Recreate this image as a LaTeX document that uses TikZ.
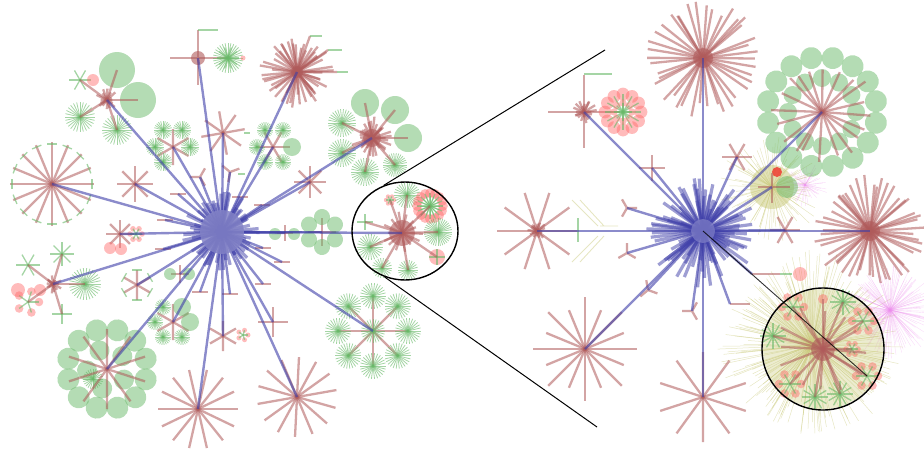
\documentclass[tikz,border=0pt]{standalone}
\usetikzlibrary{shapes.geometric}
\definecolor{Rose}{RGB}{175,90,90}
\definecolor{Leaf}{RGB}{105,185,105}
\definecolor{Blush}{RGB}{255,105,105}
\definecolor{Indigo}{RGB}{62,62,168}
\definecolor{Olive}{RGB}{200,200,120}
\definecolor{Orchid}{RGB}{235,140,235}
\definecolor{Ember}{RGB}{240,50,40}
\tikzset{
  pics/star/.style 2 args={code={\foreach \k in {1,...,#1}{\draw[spoke] (0,0)--({\k/#1*360}:#2);}}},
  pics/shag/.style n args={3}{code={\foreach \k in {1,...,#1}{\draw[spoke] (0,0)--({\k/#1*360+5*rnd}:{#2+(#3-#2)*rnd});}}},
  pics/tuft/.style 2 args={code={\foreach \k in {1,...,#1}{\draw[leafline] (0,0)--({\k/#1*360}:#2);}}},
  pics/sprig/.style 2 args={code={\foreach \k in {1,...,#1}{\draw[twig] (0,0)--({\k/#1*360}:#2);}}},
  pics/pads/.style n args={3}{code={\foreach \k in {1,...,#1}{\fill[pad] ({\k/#1*360}:#2) circle[radius=#3];}}},
  pics/posy/.style 2 args={code={\foreach \k in {1,...,#1}{\fill[blot] ({\k/#1*360}:#2) circle[radius={0.3*#2+1}];\draw[twig] (0,0)--({\k/#1*360}:#2);}}},
  pics/fork/.style={code={\draw[spoke] (0,0)--(0:10) (0,0)--(120:10) (0,0)--(240:10);}},
  pics/haze/.style n args={4}{code={\foreach \k in {1,...,#1}{\draw[#4] (0,0)--({\k/#1*360+3*rnd}:{#2+(#3-#2)*rnd});}}},
}
\begin{document}
\begin{tikzpicture}[x=1pt,y=-1pt,
    spoke/.style={draw=Rose,line width=2.3pt,opacity=.55},
    leafline/.style={draw=Leaf,line width=.8pt,opacity=.6},
    twig/.style={draw=Leaf,line width=1.3pt,opacity=.6},
    pad/.style={fill=Leaf,opacity=.5},
    blot/.style={fill=Blush,opacity=.45},
    core/.style={fill=Rose,opacity=.6},
    edge/.style={draw=Indigo,line width=2.4pt,opacity=.6},
    ray/.style={draw=Indigo,line width=3.2pt,opacity=.5},
    straw/.style={draw=Olive,line width=.5pt,opacity=.45},
    floss/.style={draw=Orchid,line width=.4pt,opacity=.3},
    lens/.style={draw=black,line width=1.4pt,inner sep=0pt},
    probe/.style={draw=black,line width=1pt}
  ]
  \pgfmathsetseed{7}
  \useasboundingbox (0,0) rectangle (924,448);

  % ---- left tree
  \coordinate (hl) at (222,232);
  \coordinate (la) at (107,100);
  \coordinate (lb) at (198,58);
  \coordinate (lc) at (297,72);
  \coordinate (ld) at (223,133);
  \coordinate (le) at (173,147);
  \coordinate (lf) at (273,147);
  \coordinate (lg) at (52,184);
  \coordinate (li) at (135,184);
  \coordinate (lj) at (372,138);
  \coordinate (lk) at (310,182);
  \coordinate (ll) at (53,284);
  \coordinate (lm) at (137,285);
  \coordinate (ln) at (107,369);
  \coordinate (lo) at (173,322);
  \coordinate (lp) at (198,409);
  \coordinate (lq) at (297,397);
  \coordinate (lr) at (223,336);
  \coordinate (ls) at (273,322);
  \coordinate (lt) at (180,274);
  \coordinate (lu) at (373,331);
  \coordinate (lv) at (402,233);
  \coordinate (lw) at (322,232);
  \coordinate (lx) at (120,234);
  \coordinate (ly) at (285,233);
  \coordinate (lz) at (200,177);
  \coordinate (lz2) at (230,172);
  \foreach \x/\y [count=\i] in {178/194,240/197,262/205,165/220,163/249,
      263/248,282/262,200/292,230/294,263/284}
    \coordinate (ld\i) at (\x,\y);

  % la
  \coordinate (la1) at (117,70);
  \coordinate (la2) at (138,100);
  \coordinate (la3) at (80,117);
  \coordinate (la4) at (117,130);
  \coordinate (la5) at (80,80);
  \fill[pad] (la1) circle[radius=18];
  \fill[pad] (la2) circle[radius=18];
  \pic at (la3) {tuft={28}{15}};
  \pic at (la4) {tuft={28}{15}};
  \pic at (la5) {sprig={6}{11}};
  \fill[blot] (93,80) circle[radius=6];
  \foreach \t in {la1,la2,la3,la4,la5} \draw[spoke] (la) -- (\t);
  \pic at (la) {shag={16}{5}{12}};

  % lb
  \draw[spoke] (170,58) -- (228,58) (198,30) -- (198,85);
  \fill[core] (lb) circle[radius=7];
  \draw[twig] (198,30) -- (218,30);
  \pic at (228,58) {tuft={32}{15}};
  \pic at (228,58) {sprig={10}{11}};
  \fill[blot] (243,58) circle[radius=2.5];

  % lc
  \pic at (lc) {shag={50}{22}{38}};
  \fill[core] (lc) circle[radius=6];
  \draw[spoke] (lc) -- (310,36) (lc) -- (328,50) (lc) -- (337,72);
  \draw[twig] (310,36) -- (322,36) (328,50) -- (342,50) (337,72) -- (348,72);

  % ld, le, lf
  \pic[rotate=10] at (ld) {star={8}{22}};
  \draw[twig] (244,133) -- (250,133);
  \pic[rotate=30] at (le) {star={6}{18}};
  \foreach \x/\y in {163/130,182/130,155/147,190/147,163/162}
    \pic at (\x,\y) {tuft={24}{9}};
  \pic at (lf) {star={6}{17}};
  \foreach \x/\y in {265/130,283/130,257/147,265/162,283/162}
    \pic at (\x,\y) {tuft={22}{8}};
  \fill[pad] (292,147) circle[radius=9];

  % lg
  \pic at (lg) {star={16}{42}};
  \foreach \a in {22.5,45,...,360}
    \draw[twig] ([shift={(\a:40)}]lg) -- ++({\a+90}:5) ([shift={(\a:40)}]lg) -- ++({\a-90}:5);

  % li, lk, lz
  \pic at (li) {star={8}{18}};
  \pic at (lk) {star={8}{16}};
  \pic[rotate=-60] at (lz) {fork};
  \pic[rotate=-100] at (lz2) {fork};
  \draw[twig] (238,174) -- (245,174);

  % lj
  \coordinate (lj1) at (365,103);
  \coordinate (lj2) at (395,110);
  \coordinate (lj3) at (408,138);
  \coordinate (lj4) at (342,123);
  \coordinate (lj5) at (342,153);
  \coordinate (lj6) at (365,172);
  \coordinate (lj7) at (395,165);
  \fill[pad] (lj1) circle[radius=14];
  \fill[pad] (lj2) circle[radius=14];
  \fill[pad] (lj3) circle[radius=14];
  \foreach \t in {lj4,lj5,lj6} \pic at (\t) {tuft={30}{14}};
  \pic at (lj7) {tuft={30}{12}};
  \foreach \t in {lj1,lj2,lj3,lj4,lj5,lj6,lj7} \draw[spoke] (lj) -- (\t);
  \pic at (lj) {shag={30}{10}{22}};
  \fill[core] (lj) circle[radius=9];

  % ll
  \coordinate (ll1) at (28,265);
  \coordinate (ll2) at (62,254);
  \coordinate (ll3) at (28,302);
  \coordinate (ll4) at (85,284);
  \coordinate (ll5) at (62,314);
  \pic at (ll1) {sprig={6}{12}};
  \pic at (ll2) {sprig={8}{12}};
  \pic at (ll3) {posy={5}{11}};
  \pic at (ll4) {tuft={30}{16}};
  \pic at (ll5) {sprig={4}{10}};
  \fill[blot] (18,290) circle[radius=7];
  \fill[blot] (40,290) circle[radius=6];
  \foreach \t in {ll1,ll2,ll3,ll4,ll5} \draw[spoke] (ll) -- (\t);
  \pic at (ll) {shag={14}{4}{10}};

  % lm
  \pic[rotate=30] at (lm) {star={6}{15}};
  \foreach \a in {30,90,...,330}
    \draw[twig] ([shift={(\a:15)}]lm) -- ++({\a+90}:5) ([shift={(\a:15)}]lm) -- ++({\a-90}:5);

  % ln
  \pic[rotate=15] at (ln) {pads={12}{40}{11}};
  \pic[rotate=40] at (ln) {pads={5}{20}{10}};
  \pic at (93,379) {tuft={24}{10}};
  \pic[rotate=18] at (ln) {star={10}{40}};

  % lo
  \pic[rotate=30] at (lo) {star={6}{18}};
  \fill[pad] (182,307) circle[radius=9];
  \fill[pad] (190,322) circle[radius=9];
  \foreach \x/\y in {163/307,155/322,163/337,182/337}
    \pic at (\x,\y) {tuft={22}{8}};

  % lp, lq, lr, ls, lt
  \pic at (lp) {star={14}{40}};
  \pic[rotate=10] at (lq) {star={14}{40}};
  \pic[rotate=30] at (lr) {star={6}{15}};
  \pic at (243,335) {posy={5}{5}};
  \pic at (ls) {star={4}{15}};
  \pic at (lt) {star={4}{9}};
  \fill[pad] (170,274) circle[radius=6];
  \fill[pad] (189,274) circle[radius=6];

  % lu
  \pic at (lu) {star={8}{35}};
  \foreach \a in {45,90,...,360}
    \pic at ([shift={(\a:35)}]lu) {tuft={26}{13}};
  \pic at (lu) {tuft={24}{12}};

  % lv
  \coordinate (lv1) at (407,195);
  \coordinate (lv2) at (430,206);
  \coordinate (lv3) at (438,232);
  \coordinate (lv4) at (437,257);
  \coordinate (lv5) at (370,247);
  \coordinate (lv6) at (382,268);
  \coordinate (lv7) at (408,270);
  \coordinate (lv8) at (365,222);
  \coordinate (lv9) at (390,200);
  \pic at (lv1) {tuft={28}{13}};
  \pic at (lv2) {posy={16}{13}};
  \pic at (lv2) {tuft={16}{10}};
  \pic at (lv3) {tuft={36}{14}};
  \fill[blot] (lv4) circle[radius=8];
  \pic at (lv4) {sprig={4}{8}};
  \pic at (lv5) {tuft={26}{13}};
  \pic at (lv6) {tuft={22}{10}};
  \pic at (lv7) {tuft={22}{10}};
  \pic at (lv8) {sprig={4}{8}};
  \pic at (lv9) {posy={6}{4}};
  \foreach \t in {lv1,lv2,lv3,lv4,lv5,lv6,lv7,lv8,lv9} \draw[spoke] (lv) -- (\t);
  \pic at (lv) {shag={14}{14}{22}};
  \fill[core] (lv) circle[radius=13];

  % lw, lx, ly
  \pic at (lw) {star={4}{14}};
  \pic[rotate=30] at (lw) {pads={6}{15}{8}};
  \pic at (lx) {star={8}{14}};
  \fill[blot] (110,248) circle[radius=6];
  \fill[blot] (121,249) circle[radius=6];
  \pic at (136,234) {posy={6}{6}};
  \pic at (ly) {star={4}{8}};
  \fill[pad] (275,234) circle[radius=6];
  \fill[pad] (294,234) circle[radius=6];

  % leaf dashes
  \foreach \i in {1,...,10}
    \draw[spoke] ([xshift=-8]ld\i) -- ([xshift=8]ld\i);

  % blue edges
  \foreach \t in {la,lb,lc,ld,le,lf,lg,li,lj,lk,ll,lm,ln,lo,lp,lq,lr,ls,lt,lu,lv,lw,lx,ly,lz,lz2}
    \draw[edge] (hl) -- (\t);
  \foreach \i in {1,...,10} \draw[edge] (hl) -- (ld\i);
  \pic at (hl) {haze={50}{22}{42}{ray}};
  \fill[Indigo!65!white,opacity=.85] (hl) circle[radius=22];

  % ---- right tree
  \coordinate (hr) at (703,231);
  \coordinate (ra) at (703,58);
  \coordinate (rb) at (822,112);
  \coordinate (rc) at (870,231);
  \coordinate (rd) at (585,349);
  \coordinate (re) at (703,397);
  \coordinate (rf) at (823,349);
  \coordinate (rg) at (537,231);
  \coordinate (rh) at (584,112);
  \coordinate (ri) at (772,187);
  \coordinate (rj) at (737,157);
  \coordinate (rk) at (652,168);
  \coordinate (rl) at (785,230);
  \coordinate (ry1) at (627,208);
  \coordinate (ry2) at (627,253);
  \coordinate (ry3) at (648,290);
  \coordinate (ry4) at (692,311);
  \coordinate (rq1) at (752,274);
  \coordinate (rq2) at (730,304);

  % haze
  \pic at (812,345) {haze={220}{50}{95}{straw}};
  \pic at (890,310) {haze={140}{25}{50}{floss}};
  \pic at (ri) {haze={80}{25}{55}{straw}};
  \pic at (805,185) {haze={50}{10}{24}{floss}};
  \fill[Olive,opacity=.35] (rf) circle[radius=60];
  \draw[straw,line width=.9pt] (572,200) -- (598,226) (580,200) -- (604,226)
    (572,262) -- (598,236) (580,262) -- (604,236) (600,226) -- (618,226);
  \draw[twig] (578,218) -- (578,242);

  % ra, rb, rc
  \pic at (ra) {shag={40}{45}{60}};
  \fill[core] (ra) circle[radius=10];
  \pic[rotate=11.25] at (rb) {pads={16}{55}{11}};
  \pic at (rb) {pads={12}{34}{9}};
  \pic at (rb) {shag={20}{40}{56}};
  \pic at (rc) {shag={48}{40}{58}};
  \fill[core] (rc) circle[radius=10];

  % rd, re, rg
  \pic at (rd) {star={8}{52}};
  \pic[rotate=22.5] at (rd) {star={8}{42}};
  \pic[rotate=18] at (re) {star={10}{45}};
  \pic at (rg) {star={10}{40}};
  \pic at (rg) {shag={16}{5}{12}};

  % rh
  \draw[spoke] (548,112) -- (620,112) (584,75) -- (584,148);
  \draw[twig] (584,74) -- (612,74);
  \pic at (rh) {shag={20}{5}{14}};
  \pic at (623,112) {posy={12}{18}};
  \pic at (623,112) {posy={8}{9}};

  % ri, rj, rk, rl, forks
  \fill[Olive,opacity=.5] (ri) circle[radius=22];
  \fill[Ember,opacity=.8] (777,172) circle[radius=5];
  \fill[pad] (787,187) circle[radius=11];
  \draw[spoke] (758,187) -- (790,187) (772,173) -- (772,203);
  \pic at (rj) {star={6}{15}};
  \pic at (rk) {star={4}{13}};
  \pic at (rl) {star={6}{15}};
  \pic at (ry1) {fork};
  \pic[rotate=-30] at (ry2) {fork};
  \pic[rotate=-20] at (ry3) {fork};
  \pic[rotate=-60] at (ry4) {fork};
  \draw[spoke] (rq1) -- ++(28,0);
  \draw[twig] (780,274) -- (792,274);
  \fill[blot] (800,274) circle[radius=7];
  \draw[spoke] (rq2) -- ++(20,0);

  % rf
  \coordinate (rf1) at (863,321);
  \coordinate (rf2) at (790,384);
  \coordinate (rf3) at (793,307);
  \coordinate (rf4) at (867,376);
  \coordinate (rf5) at (843,302);
  \coordinate (rf6) at (773,336);
  \coordinate (rf7) at (815,397);
  \coordinate (rf8) at (840,394);
  \coordinate (rf9) at (852,349);
  \coordinate (rf10) at (823,299);
  \foreach \t in {rf1,rf2,rf3,rf4} \pic at (\t) {posy={6}{11}};
  \foreach \t in {rf5,rf6,rf7,rf8} \pic at (\t) {sprig={12}{13}};
  \pic at (rf9) {posy={6}{6}};
  \fill[blot] (rf10) circle[radius=5];
  \foreach \t in {rf1,rf2,rf3,rf4,rf5,rf6,rf7,rf8,rf9,rf10} \draw[spoke] (rf) -- (\t);
  \pic at (rf) {shag={12}{35}{50}};
  \fill[core] (rf) circle[radius=12];

  % blue edges
  \foreach \t in {ra,rb,rc,rd,re,rg,rh,ri,rj,rk,rl,ry1,ry2,ry3,ry4,rq1,rq2}
    \draw[edge] (hr) -- (\t);
  \pic at (hr) {haze={80}{22}{58}{ray}};
  \fill[Indigo!60!white,opacity=.6] (hr) circle[radius=12];
  \draw[probe,line width=.9pt,opacity=.8] (hr) -- (rf4);

  % lenses
  \node[lens,ellipse,minimum width=106pt,minimum height=98pt] (zl) at (405,231) {};
  \node[lens,circle,minimum size=122pt] (zr) at (rf) {};
  \coordinate (zt) at (605,50);
  \coordinate (zb) at (597,427);
  \draw[probe] (zl.115) -- (zt);
  \draw[probe] (zl.246) -- (zb);
\end{tikzpicture}
\end{document}
